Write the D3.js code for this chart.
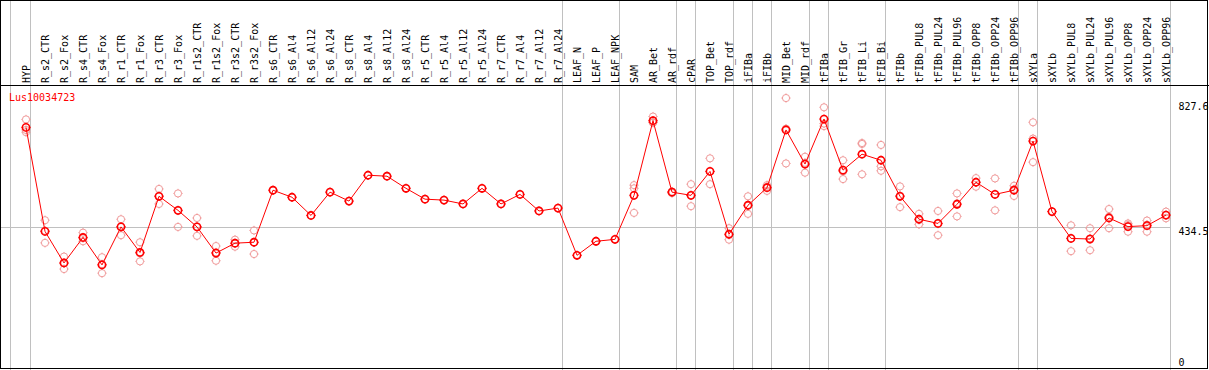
<!DOCTYPE html>
<html>
<head>
<meta charset="utf-8">
<script src="https://cdn.jsdelivr.net/npm/d3@7"></script>
<style>
  body { margin: 0; background: #fff; }
  svg { display: block; }
  text { font-family: "DejaVu Sans Mono", monospace; font-size: 10px; }
</style>
</head>
<body>
<svg id="chart" width="1209" height="370"></svg>
<script>
// ----- data ---------------------------------------------------------------
const samples = [
  "HYP", "R_s2_CTR", "R_s2_Fox", "R_s4_CTR", "R_s4_Fox", "R_r1_CTR", "R_r1_Fox",
  "R_r3_CTR", "R_r3_Fox", "R_r1s2_CTR", "R_r1s2_Fox", "R_r3s2_CTR", "R_r3s2_Fox",
  "R_s6_CTR", "R_s6_Al4", "R_s6_Al12", "R_s6_Al24", "R_s8_CTR", "R_s8_Al4",
  "R_s8_Al12", "R_s8_Al24", "R_r5_CTR", "R_r5_Al4", "R_r5_Al12", "R_r5_Al24",
  "R_r7_CTR", "R_r7_Al4", "R_r7_Al12", "R_r7_Al24", "LEAF_N", "LEAF_P", "LEAF_NPK",
  "SAM", "AR_Bet", "AR_rdf", "cPAR", "TOP_Bet", "TOP_rdf", "iFIBa", "iFIBb",
  "MID_Bet", "MID_rdf", "tFIBa", "tFIB_Gr", "tFIB_Li", "tFIB_Bi", "tFIBb",
  "tFIBb_PUL8", "tFIBb_PUL24", "tFIBb_PUL96", "tFIBb_OPP8", "tFIBb_OPP24",
  "tFIBb_OPP96", "sXYLa", "sXYLb", "sXYLb_PUL8", "sXYLb_PUL24", "sXYLb_PUL96",
  "sXYLb_OPP8", "sXYLb_OPP24", "sXYLb_OPP96"
];

// group boundaries: a grey rule is drawn right after these samples
const groupEnds = ["HYP", "R_r7_Al24", "LEAF_NPK", "AR_rdf", "cPAR", "TOP_rdf", "iFIBa",
  "iFIBb", "MID_rdf", "tFIBa", "tFIB_Bi", "tFIBb_OPP96", "sXYLa", "sXYLb_OPP96"];

const means = [
  748, 422, 323, 403, 317, 436, 356, 532, 488, 436, 354, 385, 388,
  551, 529, 472, 545, 517, 598, 595, 557, 523, 520, 508, 557, 508, 538, 486, 495,
  347, 391, 397,
  535, 769, 545, 535, 610, 413, 504, 559, 740, 633, 774, 614, 664, 645,
  532, 460, 447, 507, 576, 538, 551, 705, 484, 400, 398, 464, 437, 440, 473
];

// individual replicates (single-sample columns just repeat the value)
const replicates = [
  [773, 740, 733], [457, 386, 424], [343, 304, 322], [418, 391, 401], [341, 291, 319],
  [460, 410, 437], [388, 328, 353], [555, 508, 533], [541, 436, 487], [464, 408, 436],
  [376, 330, 356], [396, 374, 384], [425, 351, 387],
  [551], [529], [472], [545], [517], [598], [595], [557], [523], [520], [508], [557],
  [508], [538], [486], [495], [347], [391], [397],
  [567, 557, 480], [782, 763, 763], [542, 547, 545], [570, 501, 535], [651, 570, 610],
  [432, 396, 411], [532, 477, 502], [567, 549, 562], [840, 635, 744], [656, 606, 637],
  [811, 752, 760], [645, 586, 610], [699, 696, 601], [693, 626, 612], [563, 498, 534],
  [477, 444, 458], [486, 410, 446], [541, 469, 510], [589, 562, 576], [588, 488, 538],
  [565, 533, 554], [764, 713, 639], [484], [441, 360, 400], [432, 363, 400],
  [492, 432, 468], [447, 421, 442], [456, 421, 443], [484, 463, 473]
];

const geneId = "Lus10034723";
const yMax = 827.6;
const yTicks = [0, 434.5, 827.6];

// ----- layout ------------------------------------------------------------
const W = 1209, H = 370;
const headerH = 85;
const svg = d3.select("#chart");

const x = d3.scaleBand().domain(samples).range([16.5, 1175.5]).padding(0);
const cx = (s) => x(s) + x.bandwidth() / 2;
const y = d3.scaleLinear().domain([0, yMax]).range([366, 102]);
const plotRight = cx(samples[samples.length - 1]) + 4.5;

// grid line at the middle tick
svg.append("line")
  .attr("x1", 0).attr("x2", plotRight)
  .attr("y1", Math.round(y(434.5)) + 0.5).attr("y2", Math.round(y(434.5)) + 0.5)
  .attr("stroke", "#c0c0c0");

// grey separators (one before the first column, then after each group)
const sepX = [cx(samples[0]) - 15.5, ...groupEnds.map((s) => cx(s) + 4.5)];
svg.append("g").selectAll("line")
  .data(sepX)
  .join("line")
  .attr("x1", (d) => d).attr("x2", (d) => d)
  .attr("y1", 0).attr("y2", H)
  .attr("stroke", "#c0c0c0");

// frame + header rule
svg.append("rect")
  .attr("x", 0.5).attr("y", 0.5).attr("width", W - 2).attr("height", H - 2)
  .attr("fill", "none").attr("stroke", "#000");
svg.append("line")
  .attr("x1", 0).attr("x2", W).attr("y1", headerH + 0.5).attr("y2", headerH + 0.5)
  .attr("stroke", "#000");

// rotated sample labels
svg.append("g").selectAll("text")
  .data(samples)
  .join("text")
  .attr("transform", (d) => `translate(${cx(d)},${headerH - 2}) rotate(-90)`)
  .attr("dy", "0.35em")
  .attr("fill", "#000")
  .text((d) => d);

// right-hand value labels
svg.append("g").selectAll("text")
  .data(yTicks)
  .join("text")
  .attr("x", plotRight + 8)
  .attr("y", (d) => Math.min(y(d), H - 12))
  .attr("dy", "0.8em")
  .attr("fill", "#000")
  .text((d) => d);

// gene title
svg.append("text")
  .attr("x", 9).attr("y", 101)
  .attr("fill", "#f00")
  .text(geneId);

// marker: small circle with tiny tick marks
function marker(sel, color, sw) {
  sel.append("circle").attr("r", 3.6).attr("fill", "none").attr("stroke", color).attr("stroke-width", sw);
  sel.append("path")
    .attr("d", "M0,-4.6V-3.6M0,3.6V4.6M-4.6,0H-3.6M3.6,0H4.6")
    .attr("stroke", color).attr("stroke-width", 1);
}

// replicates
const repPts = replicates.flatMap((r, i) => r.map((v) => ({ s: samples[i], v })));
svg.append("g").selectAll("g")
  .data(repPts)
  .join("g")
  .attr("transform", (d) => `translate(${cx(d.s)},${y(d.v)})`)
  .call(marker, "#f09a9a", 1);

// mean line
const pts = samples.map((s, i) => ({ s, v: means[i] }));
svg.append("path")
  .datum(pts)
  .attr("fill", "none")
  .attr("stroke", "#f00")
  .attr("stroke-width", 1)
  .attr("d", d3.line().x((d) => cx(d.s)).y((d) => y(d.v)));

svg.append("g").selectAll("g")
  .data(pts)
  .join("g")
  .attr("transform", (d) => `translate(${cx(d.s)},${y(d.v)})`)
  .call(marker, "#f00", 1.6);
</script>
</body>
</html>
